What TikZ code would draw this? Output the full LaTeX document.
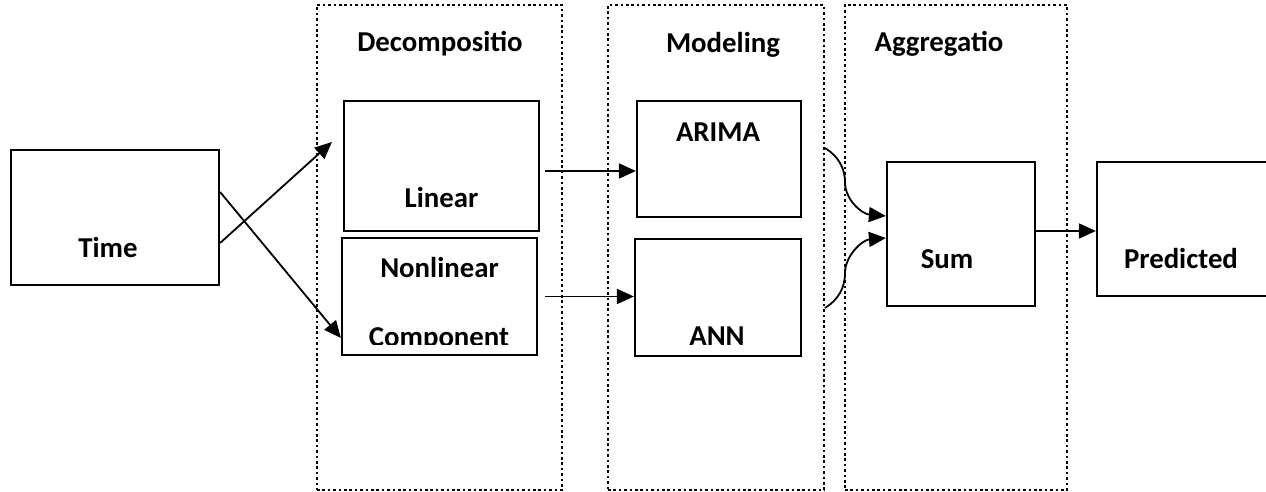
\documentclass[tikz,border=0pt]{standalone}
\usepackage{fontspec}
\setmainfont{Carlito}
\usetikzlibrary{arrows.meta,calc}

\begin{document}
\begin{tikzpicture}[x=0.5pt,y=-0.5pt,
  font=\fontsize{14.4}{17}\selectfont\bfseries,
  stage/.style={draw, line width=1.3pt, dash pattern=on 1.3pt off 1.4pt, minimum height=242.5pt, inner sep=0pt},
  box/.style={draw, line width=1.1pt, fill=white, inner sep=0pt},
  arr/.style={-{Triangle[length=8.5pt,width=7.5pt]}, line width=0.9pt}]
\useasboundingbox (0,0) rectangle (1266,492);

% Stage frames
\node[stage, minimum width=122.5pt] (decFrame) at (439.5,247.5) {};
\node[stage, minimum width=108pt] (modFrame) at (716,247.5) {};
\node[stage, minimum width=111pt] (aggFrame) at (956,247.5) {};

\node (decTitle) at (440,44) {Decompositio};
\node (modTitle) at (723,45) {Modeling};
\node (aggTitle) at (939,44) {Aggregatio};

% Boxes
\node[box, minimum width=104pt, minimum height=67.5pt,
      label={[xshift=-3.5pt,yshift=-15pt]center:Time}] (time) at (115,217.5) {};
\node[box, minimum width=97.5pt, minimum height=65pt,
      label={[yshift=-16pt]center:Linear}] (lin) at (441.5,166) {};
\node[box, minimum width=97.5pt, minimum height=58.5pt,
      label={[yshift=14.5pt]center:Nonlinear}] (nonlin) at (439.5,296.5) {};
\begin{scope}
\clip (342,238) rectangle (537,345);
\node (comp) at (439,339) {Component};
\end{scope}
\node[box, minimum width=82pt, minimum height=58pt,
      label={[xshift=-0.5pt,yshift=13.5pt]center:ARIMA}] (arima) at (719,159) {};
\node[box, minimum width=83pt, minimum height=58.5pt,
      label={[xshift=-0.5pt,yshift=-19.25pt]center:ANN}] (ann) at (718,297.5) {};
\node[box, minimum width=74pt, minimum height=72pt,
      label={[xshift=-7pt,yshift=-12.5pt]center:Sum}] (sum) at (961,234) {};
\node[box, minimum width=85.5pt, minimum height=67pt,
      label={[xshift=-0.75pt,yshift=-15pt]center:Predicted}] (pred) at (1182.5,229) {};

% Free ends
\coordinate (linIn) at ([xshift=-5.5pt,yshift=12pt]lin.west);
\coordinate (nonIn) at ([yshift=-20.75pt]nonlin.west);
\coordinate (arimaOut) at (825,148);
\coordinate (annOut) at (825,308);

% Connectors
\draw[arr] ([yshift=-12.75pt]time.east) -- (linIn);
\draw[arr] ([yshift=12.75pt]time.east) -- (nonIn);
\draw[arr] ([xshift=2.5pt,yshift=-2.5pt]lin.east) -- ([yshift=-2.5pt]lin.east -| arima.west);
\draw[arr] ([xshift=3.5pt]nonlin.east) -- (nonlin.east -| ann.west);
\draw[arr] (arimaOut) .. controls (838,156) and (845,168) .. (845,182)
  .. controls (845,200) and (862,214) .. ([yshift=9pt]sum.west);
\draw[arr] (annOut) .. controls (838,300) and (845,288) .. (845,273)
  .. controls (845,256) and (862,240) .. ([yshift=-2pt]sum.west);
\draw[arr] ([yshift=1.5pt]sum.east) -- ([yshift=1.5pt]sum.east -| pred.west);

\end{tikzpicture}
\end{document}
